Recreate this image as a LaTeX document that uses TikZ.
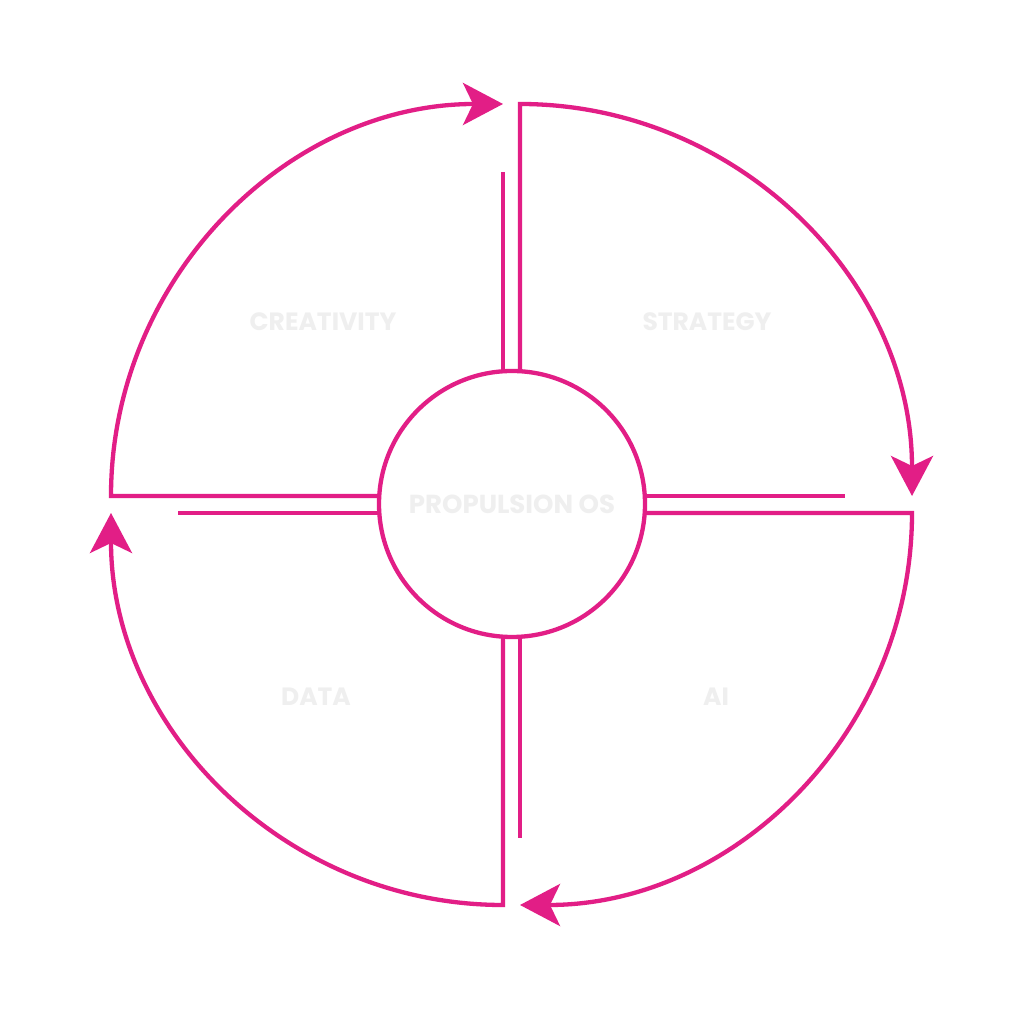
\documentclass[tikz,border=0pt]{standalone}
\usepackage{fontspec}
\newfontfamily\quadfont{Poppins}
\usetikzlibrary{arrows.meta}
\definecolor{propmagenta}{RGB}{226,30,134}
\definecolor{proplabel}{RGB}{239,239,239}
\begin{document}
\begin{tikzpicture}[x=1pt, y=1pt,
  loop/.style={draw=propmagenta, line width=4.3pt, miter limit=10},
  cycle/.style={loop, -{Stealth[length=40pt, width=42pt, inset=10pt, fill=propmagenta]}},
  quad/.style={text=proplabel, font=\quadfont\bfseries\fontsize{25}{25}\selectfont}]
\useasboundingbox (0,0) rectangle (1024,1024);
\fill[white] (0,0) rectangle (1024,1024);

\node[loop, circle, minimum size=266pt, inner sep=0pt, quad, font=\quadfont\bfseries\fontsize{26}{26}\selectfont] (core) at (512,520) {PROPULSION OS};

\node[quad] (creativity) at (323,702) {CREATIVITY};
\node[quad] (strategy) at (707,702) {STRATEGY};
\node[quad] (data) at (316,327) {DATA};
\node[quad] (ai) at (716,327) {AI};

\draw[cycle] (520,652.8) -- (520,920) arc[start angle=90, end angle=0, radius=392];
\draw[cycle] (644.8,511) -- (912,511) arc[start angle=0, end angle=-90, radius=392];
\draw[cycle] (503,387.6) -- (503,119) arc[start angle=270, end angle=180, radius=392];
\draw[cycle] (379.2,528) -- (111,528) arc[start angle=180, end angle=90, radius=392];

\draw[loop] (644.8,528) -- (845,528);
\draw[loop] (520,387.2) -- (520,186);
\draw[loop] (178,511) -- (379.2,511);
\draw[loop] (503,652.4) -- (503,852);
\end{tikzpicture}
\end{document}
